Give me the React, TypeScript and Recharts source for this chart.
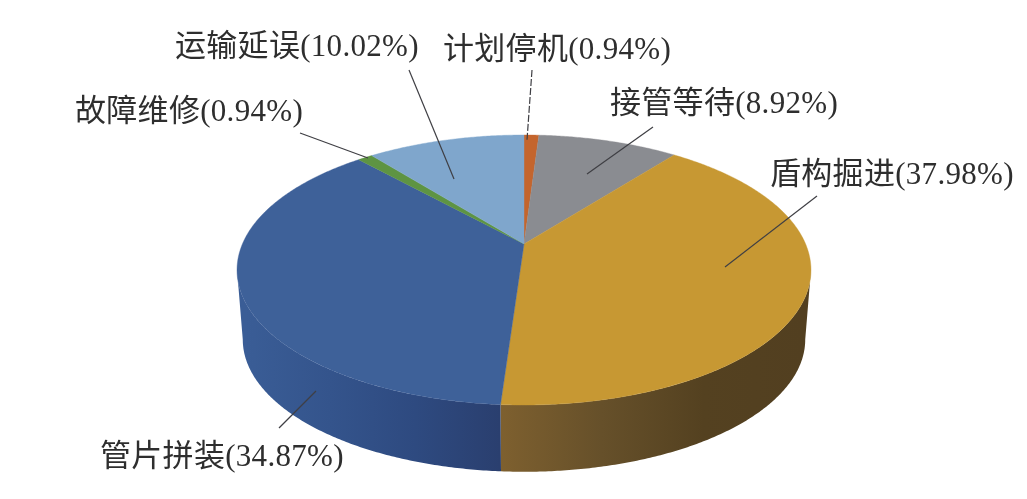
import React from 'react';
import { PieChart, Pie } from 'recharts';

const categories = ['计划停机', '接管等待', '盾构掘进', '管片拼装', '故障维修', '运输延误'];
const shares = [0.94, 8.92, 37.98, 34.87, 0.94, 10.02];

const topColors = ['#C4652D', '#8A8C91', '#C79833', '#3E6199', '#5E9443', '#7FA6CC'];
const sideStops: string[][] = [
  ['#7A3F1C', '#7A3F1C'],
  ['#56575A', '#56575A'],
  ['#7E602F', '#66502A', '#544120', '#523F20'],
  ['#3A5D96', '#34548C', '#2E4A80', '#2A3F6F'],
  ['#3A5C2A', '#3A5C2A'],
  ['#4F6880', '#4F6880'],
];
const labelLayout = [
  { x: 443, y: 59, line: [532, 70, 527, 140], dash: '7 2' },
  { x: 610, y: 113, line: [653, 127, 587, 174], dash: undefined },
  { x: 770, y: 184, line: [817, 196, 725, 267], dash: undefined },
  { x: 100, y: 466, line: [279, 428, 316, 391], dash: undefined },
  { x: 75, y: 121, line: [300, 133, 368, 158], dash: undefined },
  { x: 175, y: 56, line: [409, 70, 454, 179], dash: undefined },
];

const data = categories.map((name, i) => ({ name, value: shares[i] }));

const K = 0.1926;
const Y_RATIO = 0.4616;
const DEPTH = 70;
const BASE_SCALE = 0.98;

function project(cx: number, cy: number, r: number, deg: number, scale = 1, dy = 0) {
  const a = (deg * Math.PI) / 180;
  const u = Math.cos(a);
  const v = -Math.sin(a);
  const w = 1 - K * v;
  return { x: cx + (r * scale * u) / w, y: cy + dy + (r * Y_RATIO * scale * v) / w };
}

function arcPoints(cx: number, cy: number, r: number, from: number, to: number, scale = 1, dy = 0) {
  const n = Math.max(2, Math.ceil(Math.abs(from - to) * 2));
  const pts = [];
  for (let i = 0; i <= n; i++) pts.push(project(cx, cy, r, from + ((to - from) * i) / n, scale, dy));
  return pts;
}

const toPath = (pts: { x: number; y: number }[]) =>
  pts.map((p, i) => `${i ? 'L' : 'M'}${p.x.toFixed(2)} ${p.y.toFixed(2)}`).join(' ');

function Slice(props: any) {
  const { cx, cy, outerRadius: r, startAngle, endAngle, index } = props;
  const arc = arcPoints(cx, cy, r, startAngle, endAngle);
  const topPath = `M${cx} ${cy} ${toPath(arc).replace('M', 'L')} Z`;
  // the wall is visible where the rim faces the viewer
  const limit = (Math.asin(K) * 180) / Math.PI;
  const wallFrom = Math.min(startAngle, -limit);
  const wallTo = Math.max(endAngle, -180 + limit);
  const hasWall = wallFrom > wallTo;
  const gid = `wall-${index}`;
  const stops = sideStops[index];
  let wall = '';
  if (hasWall) {
    const upper = arcPoints(cx, cy, r, wallFrom, wallTo);
    const lower = arcPoints(cx, cy, r, wallTo, wallFrom, BASE_SCALE, DEPTH);
    wall = `${toPath(upper)} ${toPath(lower).replace('M', 'L')} Z`;
  }
  const x1 = index === 2 ? 500 : 245;
  const x2 = index === 2 ? 805 : 500;
  return (
    <g>
      <defs>
        <linearGradient id={gid} gradientUnits="userSpaceOnUse" x1={x1} x2={x2} y1={0} y2={0}>
          {stops.map((c, i) => (
            <stop key={i} offset={i / (stops.length - 1)} stopColor={c} />
          ))}
        </linearGradient>
      </defs>
      {hasWall && <path d={wall} fill={`url(#${gid})`} stroke="none" />}
      <path d={topPath} fill={topColors[index]} stroke={topColors[index]} strokeWidth={0.4} />
    </g>
  );
}

function Label(props: any) {
  const { index } = props;
  const l = labelLayout[index];
  const [x1, y1, x2, y2] = l.line;
  return (
    <g>
      <line x1={x1} y1={y1} x2={x2} y2={y2} stroke="#3f3f44" strokeWidth={1.2} strokeDasharray={l.dash} />
      <text
        x={l.x}
        y={l.y}
        fill="#2e2e2e"
        fontSize={31}
        letterSpacing={0.3}
        fontFamily='"Liberation Serif","Noto Sans CJK SC",serif'
      >
        {`${categories[index]}(${shares[index].toFixed(2)}%)`}
      </text>
    </g>
  );
}

export default function App() {
  return (
    <div style={{ position: 'absolute', left: 0, top: 0, width: 1027, height: 499, background: '#fff', filter: 'blur(0.7px)' }}>
      <PieChart width={1027} height={499} margin={{ top: 0, right: 0, bottom: 0, left: 0 }}>
        <Pie
          data={data}
          dataKey="value"
          nameKey="name"
          cx={524}
          cy={244}
          innerRadius={0}
          outerRadius={281.6}
          startAngle={90}
          endAngle={-270}
          stroke="none"
          isAnimationActive={false}
          shape={Slice}
          label={Label}
          labelLine={false}
        />
      </PieChart>
    </div>
  );
}
